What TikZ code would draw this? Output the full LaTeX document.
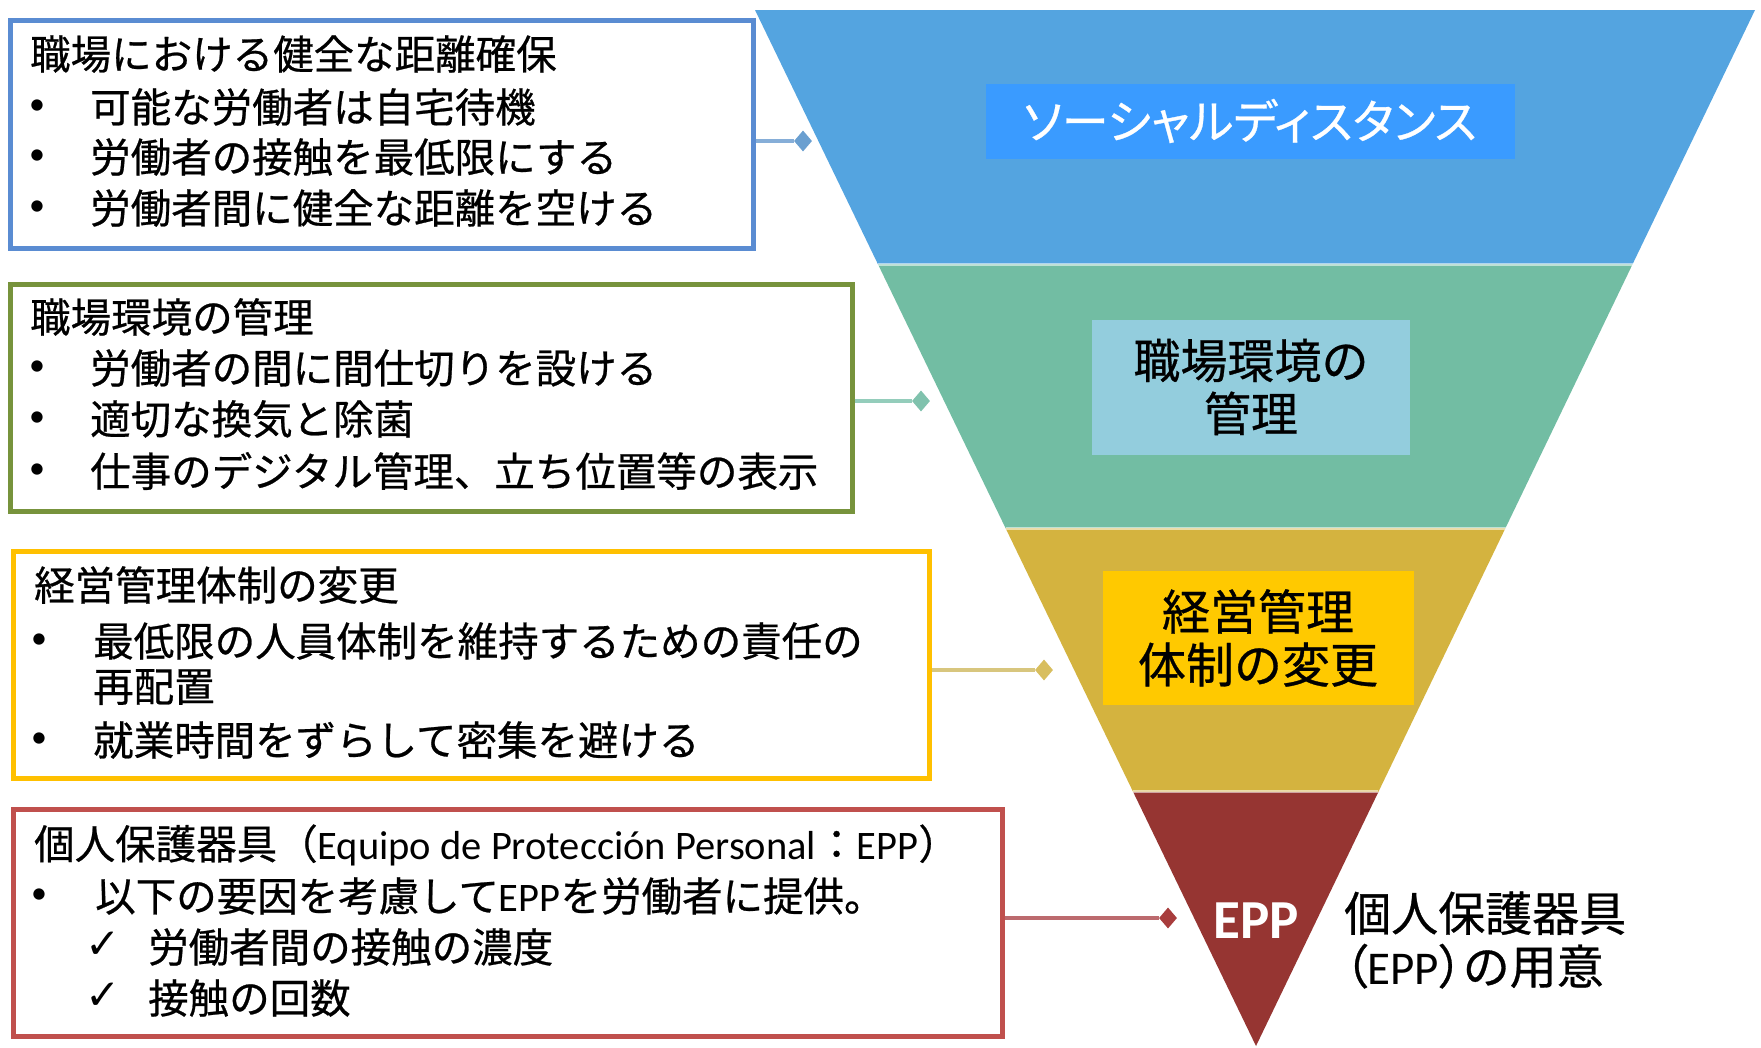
\documentclass[tikz,border=0pt]{standalone}
\usepackage{fontspec}
\setmainfont{Noto Sans CJK JP}[FakeBold=0.6]
\newfontfamily\jpp[RawFeature=+palt,FakeBold=0.6]{Noto Sans CJK JP}
\newfontfamily\lat{Carlito}
\newfontfamily\dvs{DejaVu Sans}
\usetikzlibrary{shapes.geometric,calc}
\definecolor{bandB}{HTML}{54A4E0}
\definecolor{bandG}{HTML}{72BDA3}
\definecolor{bandY}{HTML}{D4B33F}
\definecolor{bandR}{HTML}{963532}
\definecolor{boxB}{HTML}{3A9BFF}
\definecolor{boxG}{HTML}{93CDDD}
\definecolor{boxY}{HTML}{FFC900}
\definecolor{frB}{HTML}{5A8CD2}
\definecolor{frG}{HTML}{77933C}
\definecolor{frY}{HTML}{FFC000}
\definecolor{frR}{HTML}{C0504D}
\definecolor{lnB}{HTML}{86AED8}
\definecolor{lnG}{HTML}{94CDBB}
\definecolor{lnY}{HTML}{D8C67E}
\definecolor{lnR}{HTML}{BC6A6E}
\definecolor{dmB}{HTML}{6A9FD0}
\definecolor{dmG}{HTML}{80C2AD}
\definecolor{dmY}{HTML}{D8BE5E}
\definecolor{dmR}{HTML}{A83C3C}
\begin{document}
\begin{tikzpicture}[x=1pt,y=-1pt,
  frame/.style={draw=#1, line width=4.5pt, fill=white, inner sep=0pt, anchor=north west},
  txt/.style={anchor=west, inner sep=0pt, font=\fontsize{40.5}{48}\selectfont},
  bul/.style={anchor=center, inner sep=0pt, font=\lat\fontsize{32}{40}\selectfont},
  chk/.style={anchor=center, inner sep=0pt, font=\dvs\fontsize{42}{48}\selectfont},
  lbl/.style={inner sep=0pt, align=center, font=\fontsize{47}{53}\selectfont},
  conn/.style={line width=3.5pt, draw=#1},
  dia/.style={diamond, fill=#1, inner sep=0pt, minimum width=18pt, minimum height=21pt}
]
\useasboundingbox (0,0) rectangle (1761,1047);
\fill[white] (0,0) rectangle (1761,1047);
% funnel
\coordinate (TL) at (755,10);
\coordinate (TR) at (1755,10);
\coordinate (AP) at (1256,1046);
\coordinate (L1) at ($(TL)!0.2452!(AP)$);
\coordinate (R1) at ($(TR)!0.2452!(AP)$);
\coordinate (L2) at ($(TL)!0.5!(AP)$);
\coordinate (R2) at ($(TR)!0.5!(AP)$);
\coordinate (L3) at ($(TL)!0.7548!(AP)$);
\coordinate (R3) at ($(TR)!0.7548!(AP)$);
\fill[bandB] (TL) -- (TR) -- (R1) -- (L1) -- cycle;
\fill[bandG] (L1) -- (R1) -- (R2) -- (L2) -- cycle;
\fill[bandY] (L2) -- (R2) -- (R3) -- (L3) -- cycle;
\fill[bandR] (L3) -- (R3) -- (AP) -- cycle;
\draw[white, opacity=0.55, line width=3pt] (L1) -- (R1);
\draw[white, opacity=0.55, line width=3pt] (L2) -- (R2);
\draw[white, opacity=0.55, line width=3pt] (L3) -- (R3);
% labels in funnel
\node[lbl, fill=boxB, minimum width=529pt, minimum height=75pt, text=white, font=\jpp\fontsize{47}{52}\selectfont] (l1) at (1250,121) {ソーシャルディスタンス};
\node[lbl, fill=boxG, minimum width=318pt, minimum height=135pt] (l2) at (1251,387) {職場環境の\\管理};
\node[lbl, fill=boxY, minimum width=311pt, minimum height=134pt, font=\fontsize{48}{53}\selectfont] (l3) at (1258,638) {経営管理\\体制の変更};
\node[inner sep=0pt, text=white, font=\lat\bfseries\fontsize{55}{60}\selectfont] (l4) at (1256,921) {EPP};
\node[lbl, anchor=west, align=left] (l5) at (1344,940) {個人保護器具\\{\jpp（}{\lat EPP}{\jpp）}の用意};
% boxes
\node[frame=frB, minimum width=743pt, minimum height=228pt] (b1) at (8,18) {};
\node[frame=frG, minimum width=842pt, minimum height=227pt] (b2) at (8,282) {};
\node[frame=frY, minimum width=916pt, minimum height=227pt] (b3) at (11,549) {};
\node[frame=frR, minimum width=989pt, minimum height=227pt] (b4) at (11,807) {};
% connectors
\node[dia=dmB] (d1) at (803,141) {};
\node[dia=dmG] (d2) at (921,401) {};
\node[dia=dmY] (d3) at (1044,670) {};
\node[dia=dmR] (d4) at (1168,918) {};
\draw[conn=lnB] (b1.east |- d1) -- (d1);
\draw[conn=lnG] (b2.east |- d2) -- (d2);
\draw[conn=lnY] (b3.east |- d3) -- (d3);
\draw[conn=lnR] (b4.east |- d4) -- (d4);
% box 1 text
\node[txt] (t1) at (30,54) {職場における健全な距離確保};
\node[bul] (t1a) at (37,107) {•};
\node[txt] (t1b) at (90,107) {可能な労働者は自宅待機};
\node[bul] (t1c) at (37,157) {•};
\node[txt] (t1d) at (90,157) {労働者の接触を最低限にする};
\node[bul] (t1e) at (37,208) {•};
\node[txt] (t1f) at (90,208) {労働者間に健全な距離を空ける};
% box 2 text
\node[txt] (t2) at (30,317) {職場環境の管理};
\node[bul] (t2a) at (37,368) {•};
\node[txt] (t2b) at (90,368) {労働者の間に間仕切りを設ける};
\node[bul] (t2c) at (37,419) {•};
\node[txt] (t2d) at (90,419) {適切な換気と除菌};
\node[bul] (t2e) at (37,471) {•};
\node[txt] (t2f) at (90,471) {仕事のデジタル管理、立ち位置等の表示};
% box 3 text
\node[txt] (t3) at (34,585) {経営管理体制の変更};
\node[bul] (t3a) at (39,641) {•};
\node[txt] (t3b) at (93,641) {最低限の人員体制を維持するための責任の};
\node[txt] (t3c) at (93,687) {再配置};
\node[bul] (t3d) at (39,740) {•};
\node[txt] (t3e) at (93,740) {就業時間をずらして密集を避ける};
% box 4 text
\node[txt] (t4) at (34,845) {個人保護器具（{\lat Equipo de Protección Personal}：{\lat EPP}）};
\node[bul] (t4a) at (39,896) {•};
\node[txt] (t4b) at (95,896) {以下の要因を考慮して{\lat EPP}を労働者に提供。};
\node[chk] (t4c) at (103,945) {✓};
\node[txt] (t4d) at (148,947) {労働者間の接触の濃度};
\node[chk] (t4e) at (103,996) {✓};
\node[txt] (t4f) at (148,998) {接触の回数};
\end{tikzpicture}
\end{document}
